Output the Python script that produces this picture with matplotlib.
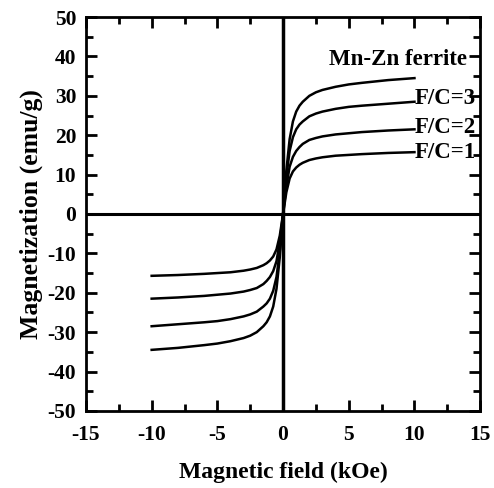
import matplotlib
matplotlib.use("Agg")
import matplotlib.pyplot as plt
import numpy as np
from matplotlib.ticker import MultipleLocator

plt.rcParams['font.family'] = ['Liberation Serif', 'DejaVu Serif']
plt.rcParams['font.weight'] = 'bold'
plt.rcParams['axes.unicode_minus'] = False

# Positive-field half of each curve (curves are symmetric M(-H) = -M(H))
field_pos = [0.0, 0.25, 0.5, 0.75, 1.0, 1.25, 1.5, 2.0, 2.5, 3.0, 4.0, 5.0, 6.0, 8.0, 10.0]
m_ferrite = [0.0, 11.0, 19.0, 23.5, 26.0, 27.5, 28.5, 30.0, 30.9, 31.5, 32.3, 32.9, 33.3, 34.0, 34.5]
m_fc3 = [0.0, 9.5, 16.0, 19.5, 21.5, 22.7, 23.5, 24.8, 25.5, 26.0, 26.7, 27.2, 27.5, 28.0, 28.5]
m_fc2 = [0.0, 7.0, 12.0, 14.5, 16.0, 17.0, 17.8, 18.8, 19.3, 19.7, 20.2, 20.5, 20.8, 21.2, 21.5]
m_fc1 = [0.0, 5.5, 9.0, 10.8, 11.8, 12.5, 13.0, 13.7, 14.1, 14.4, 14.8, 15.0, 15.2, 15.5, 15.7]

labels = ["Mn-Zn ferrite", "F/C=3", "F/C=2", "F/C=1"]
label_x = [3.5, 10.0, 10.0, 10.0]
label_y = [39.3, 29.3, 22.0, 15.6]

xticks = [-15, -10, -5, 0, 5, 10, 15]
yticks = [-50, -40, -30, -20, -10, 0, 10, 20, 30, 40, 50]

fig = plt.figure(figsize=(4.94, 4.88), dpi=100)
ax = fig.add_axes([0.174, 0.158, 0.798, 0.807])

def full(xs, ys):
    xs = np.array(xs); ys = np.array(ys)
    X = np.concatenate([-xs[::-1], xs[1:]])
    Y = np.concatenate([-ys[::-1], ys[1:]])
    return X, Y

for m in [m_ferrite, m_fc3, m_fc2, m_fc1]:
    X, Y = full(field_pos, m)
    ax.plot(X, Y, color='black', lw=1.8)

ax.axhline(0, color='black', lw=2.2)
ax.axvline(0, color='black', lw=2.5)

for t, lx, ly in zip(labels, label_x, label_y):
    ax.text(lx, ly, t, fontsize=16.5, fontweight='bold', va='center', ha='left')

ax.set_xlim(-15, 15)
ax.set_ylim(-50, 50)
ax.set_xticks(xticks)
ax.set_yticks(yticks)
ax.xaxis.set_minor_locator(MultipleLocator(2.5))
ax.yaxis.set_minor_locator(MultipleLocator(5))
ax.tick_params(which='both', direction='in', top=True, right=True, width=2)
ax.tick_params(which='major', length=8, labelsize=15.5, pad=7)
ax.tick_params(axis='x', which='major', pad=10)
ax.tick_params(which='minor', length=5)
for s in ax.spines.values():
    s.set_linewidth(2)
for lab in ax.get_xticklabels() + ax.get_yticklabels():
    lab.set_fontweight('bold')

ax.set_xlabel("Magnetic field (kOe)", fontsize=17, fontweight='bold', labelpad=12)
ax.set_ylabel("Magnetization (emu/g)", fontsize=18.5, fontweight='bold', labelpad=3)

fig.savefig("out.png", dpi=100)
